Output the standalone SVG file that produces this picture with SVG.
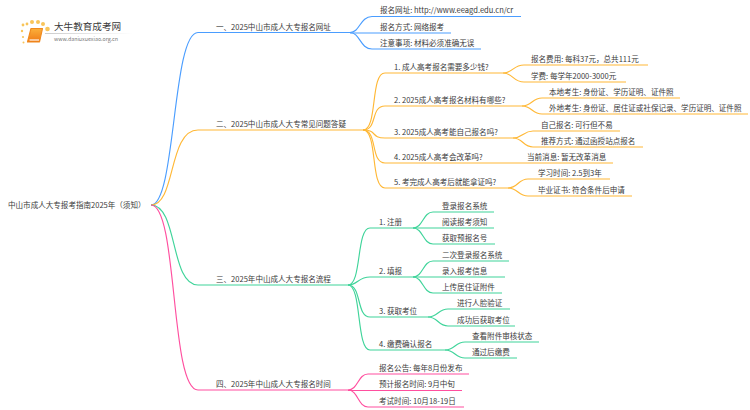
<svg xmlns="http://www.w3.org/2000/svg" width="750" height="410" viewBox="0 0 750 410">
<style>
text{font-family:"Noto Sans CJK SC","Liberation Sans",sans-serif;font-size:7.55px;fill:#3a3a3a}
path{fill:none;stroke-width:1.15}
.b path{stroke:#4a9dff}.o path{stroke:#ffb836}.g path{stroke:#3fd49a}.p path{stroke:#ff4f9f}
</style>
<defs><linearGradient id="fade"><stop offset="0" stop-color="#ccc"/><stop offset="1" stop-color="#ccc" stop-opacity="0"/></linearGradient>
<linearGradient id="bk" x1="0" y1="0" x2="0" y2="1"><stop offset="0" stop-color="#fbb03b"/><stop offset="1" stop-color="#ef7a16"/></linearGradient></defs>
<rect width="750" height="410" fill="#fff"/>
<g id="logo">
<rect x="45" y="33" width="88" height="1" fill="url(#fade)"/>
<g fill="#f8c55a"><circle cx="22" cy="31" r="1.2"/><circle cx="23" cy="25" r="1.4"/><circle cx="27" cy="24" r="1.4"/><circle cx="32" cy="22" r="2"/><circle cx="38" cy="22" r="2"/><circle cx="43" cy="24" r="2"/><circle cx="47.500" cy="29" r="2.300"/><circle cx="23" cy="37" r="1.100"/><circle cx="23.500" cy="42.500" r="1"/></g>
<path d="M31 28.500h11.500l-3 13.500h-12z" style="fill:url(#bk);stroke:#f08a1e;stroke-linejoin:round"/>
<path d="M29.500 40h9.500" style="stroke:#fff"/>
<text x="54" y="30" style="font-size:9.600px">大牛教育成考网</text>
<text x="54" y="40.500" style="font-size:5.300px;fill:#777">www.daniuxuexiao.org.cn</text>
</g>
<g id="connectors">
<g class="b">
<path d="M151 205C176 205 172 32.500 198 32.500H350"/>
<path d="M350 32.500C360 32.500 360 16.500 372 16.500H521"/>
<path d="M350 33H451"/>
<path d="M350 32.500C360 32.500 360 49 372 49H481"/>
</g>
<g class="o">
<path d="M151 205C176 205 168 130 198 130H363"/>
<path d="M363 130C378 130 370 73 385 73H503"/>
<path d="M363 130C378 130 370 106 385 106H522"/>
<path d="M363 130C378 130 370 138 385 138H513"/>
<path d="M363 130C378 130 370 163 385 163H613"/>
<path d="M363 130C378 130 370 188 385 188H508"/>
<path d="M503 73C513 73 513 65 524 65H648"/>
<path d="M503 73C513 73 513 82 524 82H626"/>
<path d="M522 106C532 106 532 98 542 98H680"/>
<path d="M522 106C532 106 532 114 542 114H748"/>
<path d="M513 138C523 138 523 131 533 131H620"/>
<path d="M513 138C523 138 523 147 533 147H643"/>
<path d="M508 188C518 188 518 179 528 179H610"/>
<path d="M508 188C518 188 518 196 528 196H632"/>
</g>
<g class="g">
<path d="M151 205C178 205 170 285 198 285H348"/>
<path d="M348 285C362 285 356 228 370 228H413"/>
<path d="M348 285C358 285 358 277 370 277H413"/>
<path d="M348 285C362 285 356 317 370 317H428"/>
<path d="M348 285C362 285 356 350 370 350H445"/>
<path d="M413 228C423 228 423 212 433 212H494"/>
<path d="M413 228H494"/>
<path d="M413 228C423 228 423 244 433 244H495"/>
<path d="M413 277C423 277 423 261 433 261H509"/>
<path d="M413 277H505"/>
<path d="M413 277C423 277 423 293 433 293H502"/>
<path d="M428 317C438 317 438 309 448 309H510"/>
<path d="M428 317C438 317 438 326 448 326H515"/>
<path d="M445 350C455 350 455 342 465 342H539"/>
<path d="M445 350C455 350 455 358 465 358H517"/>
</g>
<g class="p">
<path d="M151 205C178 205 170 390 198 390H348"/>
<path d="M348 390C358 390 358 374 368 374H469"/>
<path d="M348 390.500H462"/>
<path d="M348 390C358 390 358 407 368 407H464"/>
</g>
</g>
<g id="root"><text x="8" y="208">中山市成人大专报考指南2025年（须知）</text></g>
<g id="n1"><text x="216" y="29.500">一、2025中山市成人大专报名网址</text></g>
<g id="n1-1"><text x="380" y="13">报名网址: http://www.eeagd.edu.cn/cr</text></g>
<g id="n1-2"><text x="380" y="29.500">报名方式: 网络报考</text></g>
<g id="n1-3"><text x="380" y="46">注意事项: 材料必须准确无误</text></g>
<g id="n2"><text x="216" y="127">二、2025中山市成人大专常见问题答疑</text></g>
<g id="n2-1"><text x="394" y="69.500">1. 成人高考报名需要多少钱?</text></g>
<g id="n2-1a"><text x="531" y="61.500">报名费用: 每科37元，总共111元</text></g>
<g id="n2-1b"><text x="531" y="78.500">学费: 每学年2000-3000元</text></g>
<g id="n2-2"><text x="394" y="102.500">2. 2025成人高考报名材料有哪些?</text></g>
<g id="n2-2a"><text x="549" y="94.500">本地考生: 身份证、学历证明、证件照</text></g>
<g id="n2-2b"><text x="549" y="110.500">外地考生: 身份证、居住证或社保记录、学历证明、证件照</text></g>
<g id="n2-3"><text x="394" y="135">3. 2025成人高考能自己报名吗?</text></g>
<g id="n2-3a"><text x="541" y="127.500">自己报名: 可行但不易</text></g>
<g id="n2-3b"><text x="541" y="143.500">推荐方式: 通过函授站点报名</text></g>
<g id="n2-4"><text x="394" y="159.500">4. 2025成人高考会改革吗?</text></g>
<g id="n2-4a"><text x="527" y="159.500">当前消息: 暂无改革消息</text></g>
<g id="n2-5"><text x="394" y="184.500">5. 考完成人高考后就能拿证吗?</text></g>
<g id="n2-5a"><text x="538" y="175.500">学习时间: 2.5到3年</text></g>
<g id="n2-5b"><text x="538" y="192.500">毕业证书: 符合条件后申请</text></g>
<g id="n3"><text x="216" y="281.500">三、2025年中山成人大专报名流程</text></g>
<g id="n3-1"><text x="379" y="224.500">1. 注册</text></g>
<g id="n3-1a"><text x="442" y="208.500">登录报名系统</text></g>
<g id="n3-1b"><text x="442" y="224.500">阅读报考须知</text></g>
<g id="n3-1c"><text x="442" y="240.500">获取预报名号</text></g>
<g id="n3-2"><text x="379" y="273.500">2. 填报</text></g>
<g id="n3-2a"><text x="442" y="257.500">二次登录报名系统</text></g>
<g id="n3-2b"><text x="442" y="273.500">录入报考信息</text></g>
<g id="n3-2c"><text x="442" y="289.500">上传居住证附件</text></g>
<g id="n3-3"><text x="379" y="313.500">3. 获取考位</text></g>
<g id="n3-3a"><text x="457" y="305.500">进行人脸验证</text></g>
<g id="n3-3b"><text x="457" y="322.500">成功后获取考位</text></g>
<g id="n3-4"><text x="379" y="346.500">4. 缴费确认报名</text></g>
<g id="n3-4a"><text x="472" y="338.500">查看附件审核状态</text></g>
<g id="n3-4b"><text x="472" y="354.500">通过后缴费</text></g>
<g id="n4"><text x="216" y="386.500">四、2025年中山成人大专报名时间</text></g>
<g id="n4-1"><text x="379" y="370.500">报名公告: 每年8月份发布</text></g>
<g id="n4-2"><text x="379" y="387">预计报名时间: 9月中旬</text></g>
<g id="n4-3"><text x="379" y="403.500">考试时间: 10月18-19日</text></g>
</svg>
